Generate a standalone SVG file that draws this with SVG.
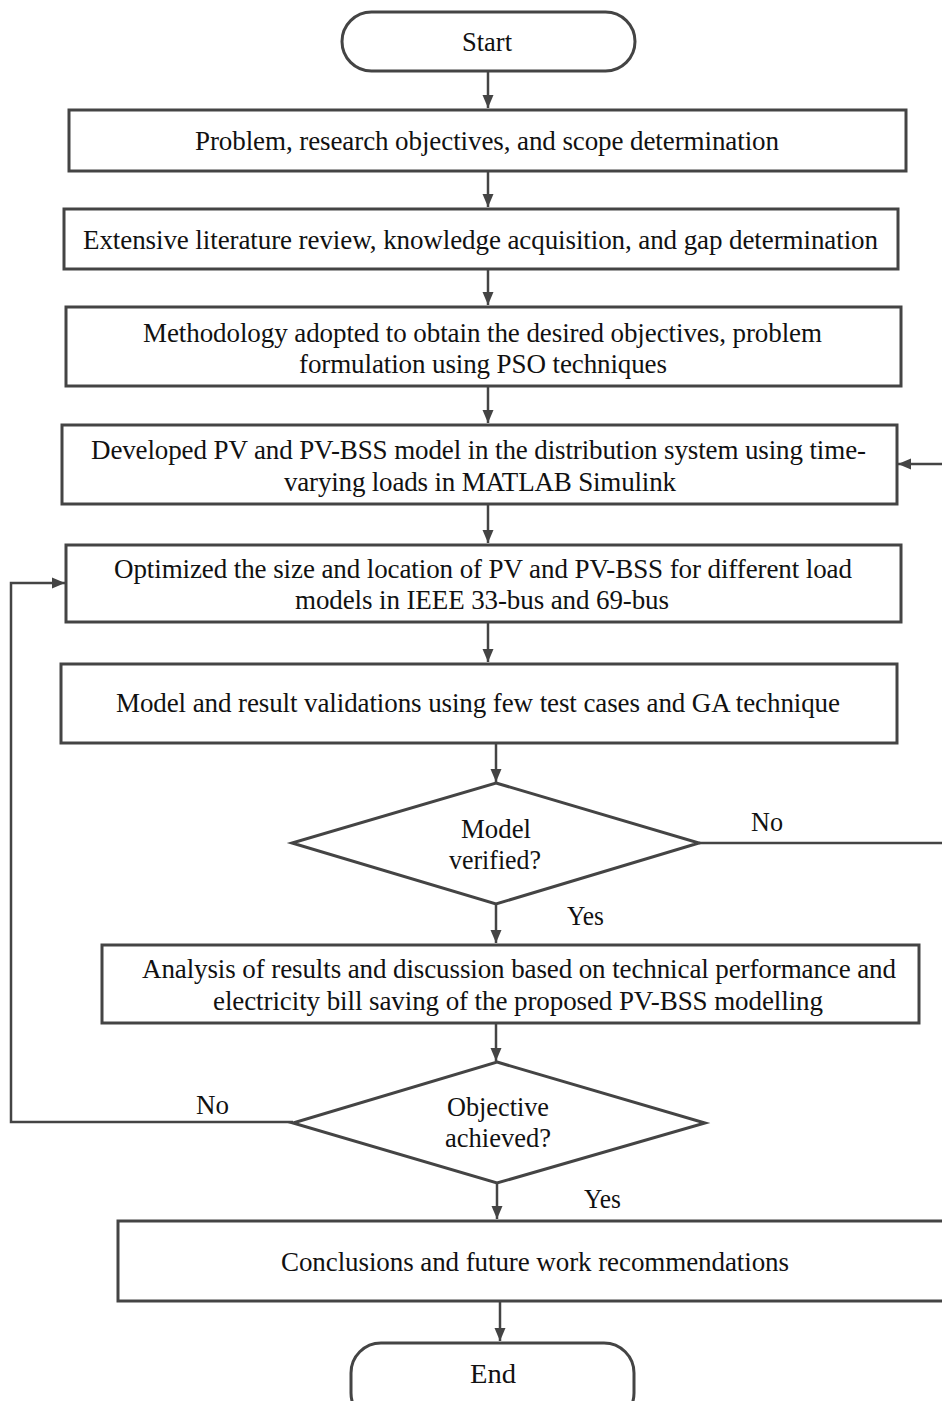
<svg xmlns="http://www.w3.org/2000/svg" width="942" height="1401" viewBox="0 0 942 1401">
<style>
.box{fill:#fff;stroke:#444;stroke-width:3}
.t{font-family:"Liberation Serif","Times New Roman",serif;font-size:27px;fill:#111;text-anchor:middle}
.c{fill:none;stroke:#444;stroke-width:2.5}
</style>
<defs>
<marker id="ah" markerUnits="userSpaceOnUse" markerWidth="14" markerHeight="14" viewBox="0 0 14 14" refX="13" refY="7" orient="auto">
<path d="M0,1.5 L13,7 L0,12.5 Z" fill="#444"/>
</marker>
</defs>
<rect width="942" height="1401" fill="#fff"/>
<g id="connectors">
<path class="c" d="M488,71 V108" marker-end="url(#ah)"/>
<path class="c" d="M488,171 V207" marker-end="url(#ah)"/>
<path class="c" d="M488,269 V305" marker-end="url(#ah)"/>
<path class="c" d="M488,386 V423" marker-end="url(#ah)"/>
<path class="c" d="M488,504 V543" marker-end="url(#ah)"/>
<path class="c" d="M488,623 V662" marker-end="url(#ah)"/>
<path class="c" d="M496,743 V782" marker-end="url(#ah)"/>
<path class="c" d="M496,904 V943" marker-end="url(#ah)"/>
<path class="c" d="M496,1023 V1061" marker-end="url(#ah)"/>
<path class="c" d="M497,1183 V1219" marker-end="url(#ah)"/>
<path class="c" d="M500,1301 V1341" marker-end="url(#ah)"/>
<path class="c" d="M699,843 H960 V464 H898" marker-end="url(#ah)"/>
<path class="c" d="M293,1122 H11 V583 H65" marker-end="url(#ah)"/>
<text class="t" x="767" y="831" textLength="32" lengthAdjust="spacingAndGlyphs">No</text>
<text class="t" x="585.5" y="925" textLength="37" lengthAdjust="spacingAndGlyphs">Yes</text>
<text class="t" x="212.5" y="1114" textLength="33" lengthAdjust="spacingAndGlyphs">No</text>
<text class="t" x="602.5" y="1208" textLength="37" lengthAdjust="spacingAndGlyphs">Yes</text>
</g>
<g id="start">
<rect class="box" x="342" y="12" width="293" height="59" rx="29.5"/>
<text class="t" x="487" y="51" textLength="50" lengthAdjust="spacingAndGlyphs">Start</text>
</g>
<g id="box1">
<rect class="box" x="69" y="110" width="837" height="61"/>
<text class="t" x="487" y="150" textLength="584" lengthAdjust="spacing">Problem, research objectives, and scope determination</text>
</g>
<g id="box2">
<rect class="box" x="64" y="209" width="834" height="60"/>
<text class="t" x="480.5" y="249" textLength="795" lengthAdjust="spacing">Extensive literature review, knowledge acquisition, and gap determination</text>
</g>
<g id="box3">
<rect class="box" x="66" y="307" width="835" height="79"/>
<text class="t" x="482.5" y="342" textLength="679" lengthAdjust="spacing">Methodology adopted to obtain the desired objectives, problem</text>
<text class="t" x="483" y="373" textLength="368" lengthAdjust="spacing">formulation using PSO techniques</text>
</g>
<g id="box4">
<rect class="box" x="62" y="425" width="835" height="79"/>
<text class="t" x="478.5" y="459" textLength="775" lengthAdjust="spacing">Developed PV and PV-BSS model in the distribution system using time-</text>
<text class="t" x="480" y="491" textLength="392" lengthAdjust="spacing">varying loads in MATLAB Simulink</text>
</g>
<g id="box5">
<rect class="box" x="66" y="545" width="835" height="77"/>
<text class="t" x="483" y="578" textLength="738" lengthAdjust="spacing">Optimized the size and location of PV and PV-BSS for different load</text>
<text class="t" x="482" y="609" textLength="374" lengthAdjust="spacing">models in IEEE 33-bus and 69-bus</text>
</g>
<g id="box6">
<rect class="box" x="61" y="664" width="836" height="79"/>
<text class="t" x="478" y="712" textLength="724" lengthAdjust="spacing">Model and result validations using few test cases and GA technique</text>
</g>
<g id="decision1">
<polygon class="box" points="496,783 699,843 496,904 292,843"/>
<text class="t" x="496" y="838" textLength="70" lengthAdjust="spacingAndGlyphs">Model</text>
<text class="t" x="495" y="869" textLength="92" lengthAdjust="spacingAndGlyphs">verified?</text>
</g>
<g id="box7">
<rect class="box" x="102" y="945" width="817" height="78"/>
<text class="t" x="519" y="978" textLength="754" lengthAdjust="spacing">Analysis of results and discussion based on technical performance and</text>
<text class="t" x="518" y="1010" textLength="610" lengthAdjust="spacing">electricity bill saving of the proposed PV-BSS modelling</text>
</g>
<g id="decision2">
<polygon class="box" points="497,1062 705,1123 497,1183 293,1123"/>
<text class="t" x="498" y="1116" textLength="102" lengthAdjust="spacingAndGlyphs">Objective</text>
<text class="t" x="498" y="1147" textLength="106" lengthAdjust="spacingAndGlyphs">achieved?</text>
</g>
<g id="box8">
<rect class="box" x="118" y="1221" width="850" height="80"/>
<text class="t" x="535" y="1271" textLength="508" lengthAdjust="spacing">Conclusions and future work recommendations</text>
</g>
<g id="end">
<rect class="box" x="351" y="1343" width="283" height="80" rx="30"/>
<text class="t" x="493" y="1383" textLength="46" lengthAdjust="spacingAndGlyphs">End</text>
</g>
</svg>
